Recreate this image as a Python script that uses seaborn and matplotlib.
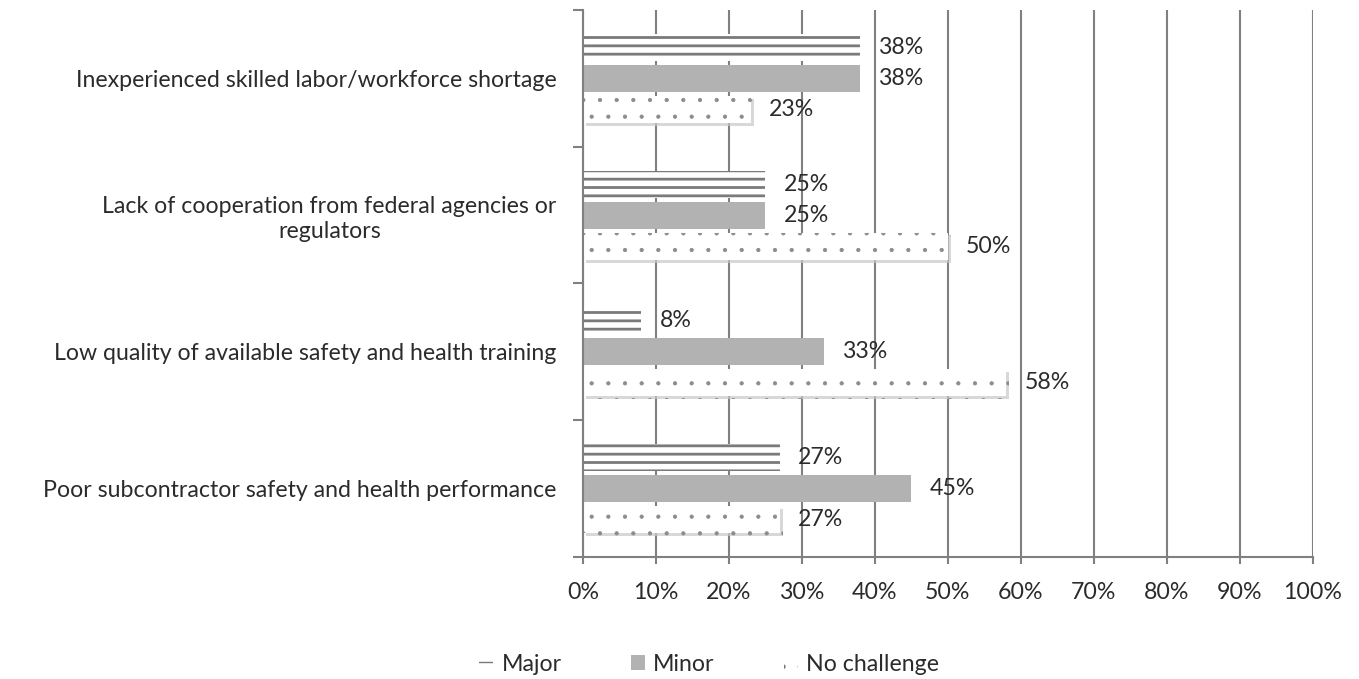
import matplotlib
matplotlib.use("Agg")
import matplotlib.pyplot as plt
import matplotlib.patheffects as pe
import seaborn as sns
import pandas as pd
import numpy as np

categories = [
    "Inexperienced skilled labor/workforce shortage",
    "Lack of cooperation from federal agencies or\nregulators",
    "Low quality of available safety and health training",
    "Poor subcontractor safety and health performance",
]
series = ["Major", "Minor", "No challenge"]
major = [38, 25, 8, 27]
minor = [38, 25, 33, 45]
no_challenge = [23, 50, 58, 27]
xticks = list(range(0, 101, 10))
xtick_labels = [f"{v}%" for v in xticks]

rows = []
for c, a, b, d in zip(categories, major, minor, no_challenge):
    rows.append((c, "Major", a))
    rows.append((c, "Minor", b))
    rows.append((c, "No challenge", d))
df = pd.DataFrame(rows, columns=["category", "series", "value"])

sns.set_theme(style="white")
plt.rcParams['font.family'] = ['Lato', 'DejaVu Sans']

TXT = "#2b2b2b"
gray = "#7a7a7a"
FS = 16.7

fig = plt.figure(figsize=(13.59, 6.79), dpi=100)
ax = fig.add_axes([0.429, 0.18, 0.537, 0.805])

palette = {"Major": "white", "Minor": "#b2b2b2", "No challenge": "white"}
sns.barplot(data=df, y="category", x="value", hue="series", hue_order=series,
            order=categories, orient="h", palette=palette, width=0.68,
            saturation=1, ax=ax, legend=True, linewidth=0)

for cont, s in zip(ax.containers, series):
    for p in cont:
        h = p.get_height()
        p.set_y(p.get_y() + h * 0.06)
        p.set_height(h * 0.88)
        p.set_linewidth(0)
        if s == "Major":
            p.set_edgecolor(gray)
            p.set_hatch("--")
            p.set_hatch_linewidth(2.0)
        elif s == "No challenge":
            p.set_edgecolor("#8c8c8c")
            p.set_hatch(".")
            p.set_hatch_linewidth(0.6)
            p.set_path_effects([pe.SimplePatchShadow(offset=(2, -2), shadow_rgbFace='#c8c8c8', alpha=0.7), pe.Normal()])
        else:
            p.set_edgecolor("none")
    ax.bar_label(cont, labels=[f"{int(round(v))}%" for v in cont.datavalues],
                 padding=13, fontsize=FS, color=TXT)

ax.set_xlim(0, 100)
ax.set_ylim(3.5, -0.5)
ax.set_xticks(xticks)
ax.set_xticklabels(xtick_labels)
ax.set_xlabel("")
ax.set_ylabel("")
ax.grid(axis="x", color="#808080", linewidth=1.5)
ax.set_axisbelow(True)
for side in ["top", "right"]:
    ax.spines[side].set_visible(False)
for side in ["left", "bottom"]:
    ax.spines[side].set_color("#808080")
    ax.spines[side].set_linewidth(1.5)

ax.set_yticks(range(len(categories)))
ax.set_yticklabels(categories, ha="right", multialignment="center")
ax.set_yticks(np.arange(-0.5, 4.0, 1.0), minor=True)
ax.tick_params(axis="y", which="major", length=0, pad=19, labelsize=FS, labelcolor=TXT)
ax.tick_params(axis="y", which="minor", length=7, width=1.5, color="#808080", direction="out", left=True)
ax.tick_params(axis="x", which="major", length=5, width=1.5, color="#808080", direction="out",
               bottom=True, pad=13, labelsize=FS, labelcolor=TXT)

handles, labels = ax.get_legend_handles_labels()
ax.legend_.remove()
for h, s in zip(handles, series):
    h.set_linewidth(0)
    if s == "Major":
        h.set_edgecolor(gray)
        h.set_hatch("--")
    elif s == "No challenge":
        h.set_edgecolor(gray)
        h.set_hatch(".")
    else:
        h.set_edgecolor("none")
leg = fig.legend(handles, labels, loc="center", bbox_to_anchor=(0.522, 0.022), ncol=3,
                 frameon=False, fontsize=FS, handlelength=0.6, handleheight=0.6,
                 handletextpad=0.35, columnspacing=3.0)
for t in leg.get_texts():
    t.set_color(TXT)

fig.savefig("out.png", dpi=100)
